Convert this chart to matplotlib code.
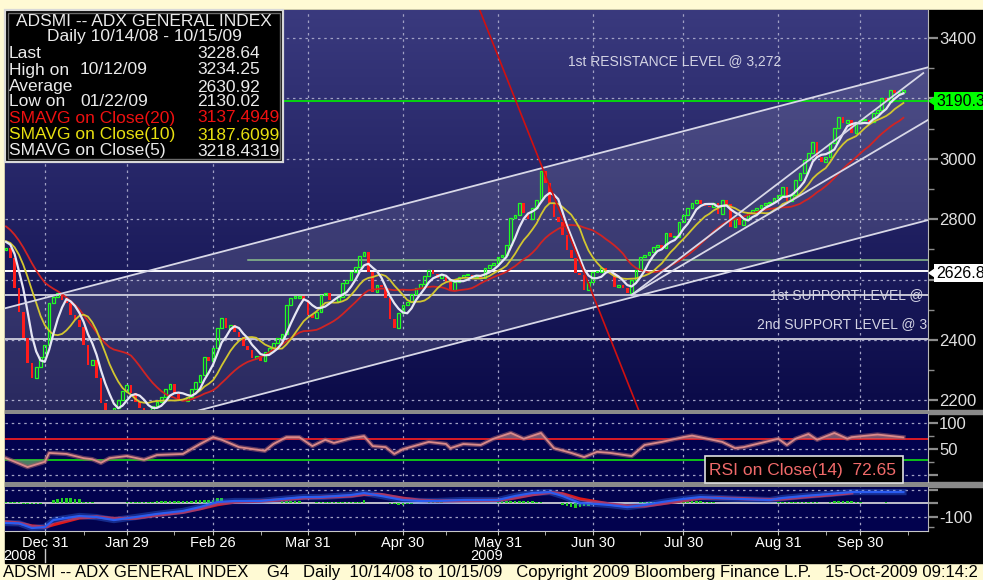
import numpy as np
import pandas as pd
import matplotlib
matplotlib.use('Agg')
import matplotlib.pyplot as plt
from matplotlib.patches import Rectangle, Polygon
from matplotlib.colors import LinearSegmentedColormap

plt.rcParams['font.family'] = ['Liberation Sans', 'DejaVu Sans']

W, H = 983, 580

# ---- data ----
# trading day index: 0 = first visible candle (mid Dec 2008), 208 = 10/15/09
pre_closes = [2905, 2890, 2880, 2860, 2835, 2810, 2790, 2775, 2760, 2745,
              2730, 2720, 2735, 2740, 2725, 2715, 2730, 2775, 2698]
closes = [2705, 2672, 2573, 2493, 2407, 2324, 2275, 2311, 2344, 2384,
          2523, 2543, 2556, 2533, 2523, 2483, 2467, 2443, 2384, 2318,
          2334, 2275, 2190, 2165, 2140, 2175, 2200, 2232, 2250, 2225,
          2195, 2175, 2165, 2160, 2180, 2195, 2210, 2238, 2255, 2220,
          2205, 2198, 2212, 2238, 2262, 2285, 2345, 2330, 2372, 2440,
          2472, 2440, 2450, 2425, 2410, 2380, 2368, 2340, 2348, 2330,
          2360, 2375, 2390, 2405, 2420, 2515, 2540, 2540, 2546, 2533,
          2483, 2473, 2493, 2549, 2556, 2533, 2530, 2543, 2589, 2599,
          2625, 2642, 2678, 2692, 2625, 2560, 2582, 2576, 2540, 2470,
          2440, 2490, 2516, 2526, 2553, 2573, 2586, 2612, 2632, 2619,
          2605, 2615, 2592, 2566, 2592, 2609, 2615, 2616, 2609, 2616,
          2606, 2639, 2649, 2655, 2675, 2682, 2715, 2804, 2814, 2854,
          2822, 2800, 2838, 2862, 2960, 2920, 2854, 2808, 2791, 2748,
          2698, 2672, 2622, 2616, 2566, 2592, 2625, 2625, 2639, 2632,
          2622, 2576, 2582, 2573, 2556, 2599, 2632, 2675, 2682, 2692,
          2708, 2715, 2705, 2754, 2740, 2741, 2791, 2814, 2837, 2854,
          2864, 2850, 2845, 2840, 2854, 2818, 2864, 2850, 2775, 2804,
          2781, 2798, 2821, 2831, 2837, 2847, 2854, 2857, 2870, 2880,
          2907, 2860, 2880, 2930, 2953, 2996, 3019, 3056, 3006, 2990,
          3006, 3052, 3102, 3138, 3119, 3129, 3086, 3122, 3129, 3129,
          3122, 3152, 3162, 3201, 3188, 3228, 3218, 3221, 3228.64]

tick_days = [9, 28, 48, 70, 92, 114, 136, 157, 179, 198]
tick_labels = ['Dec 31', 'Jan 29', 'Feb 26', 'Mar 31', 'Apr 30',
               'May 31', 'Jun 30', 'Jul 30', 'Aug 31', 'Sep 30']
minor_days = [18, 39, 59, 81, 102, 125, 147, 168, 190, 209]

rsi_days = [0, 5, 9, 10, 14, 18, 20, 22, 24, 28, 32, 35, 41, 45, 48, 50, 54, 60, 62, 65,
            68, 71, 74, 76, 80, 83, 85, 88, 90, 92, 98, 102, 103, 106, 110, 113, 117, 120, 124, 127,
            131, 134, 137, 140, 145, 148, 152, 157, 159, 162, 166, 169, 171, 176, 179, 181, 183, 186,
            188, 192, 195, 196, 202, 208]
rsi_vals = [33, 16, 26, 43, 41, 33, 31, 24, 33, 37, 30, 39, 41, 60, 73, 68, 54, 47, 60, 73,
            73, 56, 68, 62, 71, 75, 56, 54, 41, 50, 64, 60, 52, 60, 58, 70, 81, 70, 81, 52,
            43, 35, 45, 43, 37, 58, 64, 73, 76, 71, 64, 52, 54, 64, 70, 58, 70, 79,
            68, 81, 70, 73, 78, 72.65]

macd_days = [0, 3, 6, 9, 11, 17, 21, 25, 30, 35, 41, 45, 49, 53, 59, 64, 69, 73, 80, 83,
             87, 92, 96, 100, 106, 114, 118, 122, 126, 129, 133, 137, 140, 144, 148, 152, 157, 161,
             165, 170, 177, 180, 185, 191, 196, 198, 208]
macd_blue = [-148, -150, -185, -178, -126, -96, -104, -126, -104, -81, -59, -30, 7, 15, 15, 30, 44, 44, 59, 74,
             52, 22, 15, 15, 22, 22, 52, 74, 81, 52, 0, -7, -15, -30, -15, 7, 30, 44,
             37, 30, 22, 37, 52, 67, 81, 81, 81]
macd_red = [-140, -148, -170, -178, -160, -110, -102, -115, -112, -90, -68, -42, -12, 8, 14, 24, 38, 42, 52, 64,
            62, 35, 20, 15, 18, 20, 38, 62, 78, 68, 30, 8, -8, -22, -22, -5, 18, 36,
            38, 33, 25, 30, 45, 60, 75]

hist_days = [0, 1, 2, 3, 4, 5, 6, 7, 8, 11, 12, 13, 14, 15, 16, 17, 18, 19, 20,
             28, 29, 30, 31, 32, 33, 34, 35, 36, 37, 38, 39, 40, 41, 42, 43, 44, 45, 46, 47, 48,
             49, 50, 53, 54, 55, 56, 64, 65, 66, 67, 68, 72, 73, 74, 75, 76, 77, 78, 79, 80, 81, 82, 83,
             89, 90, 91, 92, 93, 94, 98, 99, 100, 101,
             114, 115, 116, 117, 118, 119, 120, 121, 122, 123, 124, 129, 130, 131, 132, 133, 134, 135, 136,
             147, 148, 149, 150, 151, 152, 153, 154, 155, 156, 157, 158, 159, 160, 161, 162, 163, 164,
             179, 180, 181, 182, 183, 184, 185, 186, 187, 188, 191, 192, 193, 194, 195, 196, 197, 198, 204]
hist_vals = [6, 6, 5, 4, -8, -10, -10, -9, -8, 25, 32, 35, 35, 35, 33, 30, 10, 8, 6,
             6, 8, 8, 8, 8, 8, 8, 12, 14, 15, 15, 15, 15, 15, 15, 18, 20, 22, 22, 24, 25,
             35, 37, 10, 10, 9, 8, 12, 15, 15, 14, 12, 6, 7, 8, 8, 8, 8, 8, 8, 8, 9, 10, 22,
             -8, -10, -12, -12, -10, -6, 6, 8, 8, 6,
             10, 12, 14, 15, 15, 15, 15, 14, 12, 10, 8, -15, -25, -32, -35, -30, -25, -20, -12,
             6, 8, 10, 10, 10, 10, 10, 12, 12, 14, 15, 15, 15, 14, 12, 10, 8, 6,
             8, 10, 10, 10, 10, 10, 10, 10, 10, 8, 10, 12, 12, 12, 12, 12, 10, 8, 6]

# analyst drawings (day, price)
channel_top = [(-1, 2502), (215, 3308)]
channel_bottom = [(-1, 1996), (215, 2802)]
trend_steep = [(145, 2549), (212.6, 3284)]
trend_mid = [(145, 2549), (214.9, 3139)]
red_down = [(109.8, 3493), (146.6, 2169)]
last_price_level = 3190.3
prev_level = 2626.8
support1 = 2549
support2 = 2403
green_level = (56, 2665)

# ---- indicators ----
allc = pd.Series(pre_closes + closes, dtype=float)
n0 = len(pre_closes)
sma5 = allc.rolling(5).mean().to_numpy()[n0:]
sma10 = allc.rolling(10).mean().to_numpy()[n0:]
sma20 = allc.rolling(20).mean().to_numpy()[n0:]

days = np.arange(len(closes))
c = np.array(closes, dtype=float)
o = np.array([pre_closes[-1]] + closes[:-1], dtype=float)

# ---- figure ----
fig = plt.figure(figsize=(W / 100, H / 100), dpi=100)
fig.patch.set_facecolor('#FFFAD4')


def box(x0, y0, x1, y1):
    return [x0 / W, 1 - y1 / H, (x1 - x0) / W, (y1 - y0) / H]


bg = fig.add_axes([0, 0, 1, 1], zorder=-5)
bg.set_xlim(0, W)
bg.set_ylim(H, 0)
bg.axis('off')
bg.add_patch(Rectangle((5, 10), W - 5, 553, color='black'))
bg.add_patch(Rectangle((5, 410), W - 5, 4, color='#8A8A8A'))
bg.add_patch(Rectangle((5, 482), W - 5, 5, color='#8A8A8A'))

ax = fig.add_axes(box(5, 10, 928, 410))
ax_rsi = fig.add_axes(box(5, 414, 928, 482))
ax_m = fig.add_axes(box(5, 487, 928, 531))

XL = (-0.23, 213.7)
grid_kw = dict(color='#A0A0C4', lw=0.9, ls=(0, (2, 3)), zorder=1)

for a in (ax, ax_rsi, ax_m):
    a.set_xlim(*XL)
    for s in ('left', 'top', 'bottom'):
        a.spines[s].set_visible(False)
    a.spines['right'].set_color('#B8B8B8')
    a.yaxis.tick_right()
    a.set_xticks(tick_days)
    a.set_xticks(minor_days, minor=True)
    for d in tick_days:
        a.axvline(d, **grid_kw)

# main panel
grad = np.linspace(1, 0, 256).reshape(-1, 1)
cmap = LinearSegmentedColormap.from_list('bb', ['#0A0A48', '#3A3A7E'])
ax.imshow(grad, cmap=cmap, aspect='auto', extent=[0, 1, 0, 1],
          transform=ax.transAxes, zorder=0)
for p in range(2200, 3500, 200):
    ax.axhline(p, **grid_kw)

(cx0, cy0), (cx1, cy1) = channel_top
(bx0, by0), (bx1, by1) = channel_bottom
ax.add_patch(Polygon([(cx0, cy0), (cx1, cy1), (bx1, by1), (bx0, by0)],
                     facecolor='white', alpha=0.13, edgecolor='none', zorder=1))
for ln in (channel_top, channel_bottom, trend_steep, trend_mid):
    ax.plot([ln[0][0], ln[1][0]], [ln[0][1], ln[1][1]], color='#D8D8E8', lw=1.3, zorder=5)
ax.plot([red_down[0][0], red_down[1][0]], [red_down[0][1], red_down[1][1]],
        color='#D01010', lw=1.2, zorder=5)

ax.axhline(last_price_level, color='#00F000', lw=1.2, zorder=2)
ax.axhline(prev_level, color='white', lw=1.4, zorder=2)
ax.axhline(support1, color='#C4C4D4', lw=1.4, zorder=2)
ax.axhline(support2, color='#C4C4D4', lw=1.4, zorder=2)
ax.plot([green_level[0], XL[1]], [green_level[1], green_level[1]], color='#8CC08C', lw=1.1, zorder=2)

up = c >= o
lo = np.minimum(o, c)
hgt = np.maximum(np.abs(c - o), 4)
ax.bar(days[up], hgt[up], bottom=lo[up], width=0.62, facecolor='none',
       edgecolor='#20FF20', linewidth=0.9, zorder=3)
ax.bar(days[~up], hgt[~up], bottom=lo[~up], width=0.62, color='#FF1C1C',
       linewidth=0, zorder=3)

ax.plot(days, sma20, color='#D02424', lw=1.3, zorder=4)
ax.plot(days, sma10, color='#D2C630', lw=1.3, zorder=4)
ax.plot(days, sma5, color='#E6E6F4', lw=1.6, zorder=4)

txt_kw = dict(color='#D4D4E4', fontsize=10, clip_on=True, zorder=6)
ax.text(155, 3320, '1st RESISTANCE LEVEL @ 3,272', ha='center', va='center', **txt_kw)
ax.text(177, support1, '1st SUPPORT LEVEL @', ha='left', va='center', **txt_kw)
ax.text(174, 2453, '2nd SUPPORT LEVEL @ 3', ha='left', va='center', **txt_kw)

ax.set_ylim(2168, 3493)
ax.set_xlim(*XL)
ax.set_yticks(range(2200, 3500, 200))
# 3200 and 2600 sit under the price flags
ax.set_yticklabels(['2200', '2400', '', '2800', '3000', '', '3400'])
ax.set_yticks(range(2300, 3400, 200), minor=True)
ax.tick_params(axis='y', which='major', length=7, width=1.6, color='#8C8C8C',
               labelcolor='#E0E0E0', labelsize=12, pad=1)
ax.tick_params(axis='y', which='minor', length=4, width=1, color='#8C8C8C')
ax.tick_params(axis='x', which='both', length=0, labelbottom=False)

# RSI panel
ax_rsi.set_facecolor('#02024E')
for v in (0, 50, 100):
    ax_rsi.axhline(v, **grid_kw)
ax_rsi.axhline(70, color='#FF2020', lw=1.2, zorder=2)
ax_rsi.axhline(30, color='#10E010', lw=1.2, zorder=2)
rd = np.array(rsi_days)
rv = np.array(rsi_vals, dtype=float)
ax_rsi.fill_between(rd, rv, 70, where=rv > 70, interpolate=True, color='#C08A8A', alpha=0.6, lw=0, zorder=2)
ax_rsi.fill_between(rd, rv, 30, where=rv < 30, interpolate=True, color='#5E9A6A', alpha=0.8, lw=0, zorder=2)
ax_rsi.plot(rd, rv, color='#9A5A6A', lw=3.2, alpha=0.6, zorder=3)
ax_rsi.plot(rd, rv, color='#DA8A8A', lw=1.3, zorder=4)
ax_rsi.set_ylim(-12.4, 117.1)
ax_rsi.set_xlim(*XL)
ax_rsi.set_yticks([0, 50, 100])
ax_rsi.set_yticklabels(['', '50', '100'])
ax_rsi.set_yticks([25, 75], minor=True)
ax_rsi.tick_params(axis='y', which='major', length=7, width=1.6, color='#8C8C8C',
                   labelcolor='#E0E0E0', labelsize=12, pad=1)
ax_rsi.tick_params(axis='y', which='minor', length=4, width=1, color='#8C8C8C')
ax_rsi.tick_params(axis='x', which='both', length=0, labelbottom=False)

# lower oscillator panel
ax_m.set_facecolor('#02024E')
for v in (100, -100):
    ax_m.axhline(v, **grid_kw)
ax_m.axhline(0, color='#E0E0E0', lw=1.2, zorder=2)
ax_m.bar(hist_days, hist_vals, width=0.6, color='#22D022', zorder=3)
ax_m.plot(macd_days[:len(macd_red)], macd_red, color='#E01818', lw=2.4, zorder=4)
ax_m.plot(macd_days, macd_blue, color='#3A78FF', lw=4.5, alpha=0.35, zorder=5)
ax_m.plot(macd_days, macd_blue, color='#2A5CF0', lw=1.6, zorder=5)
ax_m.set_ylim(-207, 118.5)
ax_m.set_xlim(*XL)
ax_m.set_yticks([100, 0, -100])
ax_m.set_yticklabels(['', '', '-100'])
ax_m.set_yticks([-180], minor=True)
ax_m.tick_params(axis='y', which='major', length=7, width=1.6, color='#8C8C8C',
                 labelcolor='#E0E0E0', labelsize=12, pad=1)
ax_m.tick_params(axis='y', which='minor', length=4, width=1, color='#8C8C8C')
ax_m.spines['bottom'].set_visible(True)
ax_m.spines['bottom'].set_color('#C8C8C8')
ax_m.set_xticklabels(tick_labels)
ax_m.tick_params(axis='x', which='both', direction='out', color='#C8C8C8', length=3,
                 labelcolor='white', labelsize=10.5, pad=0.5)

# overlay: legend box, value flags, footer
fg = fig.add_axes([0, 0, 1, 1], zorder=10)
fg.set_xlim(0, W)
fg.set_ylim(H, 0)
fg.axis('off')

fg.add_patch(Rectangle((5, 10), 278, 152, facecolor='black', edgecolor='#D8D8D8', lw=1.6))
fg.add_patch(Rectangle((8, 13), 272, 146, facecolor='none', edgecolor='#6A6A6A', lw=1))
fg.text(144, 21, 'ADSMI -- ADX GENERAL INDEX', ha='center', va='center', color='#EAEAEA', fontsize=12.5)
fg.text(144, 37, 'Daily 10/14/08 - 10/15/09', ha='center', va='center', color='#EAEAEA', fontsize=12.5)
rows = [('Last', '', '3228.64', '#EAEAEA'),
        ('High on', '10/12/09', '3234.25', '#EAEAEA'),
        ('Average', '', '2630.92', '#EAEAEA'),
        ('Low on', '01/22/09', '2130.02', '#EAEAEA'),
        ('SMAVG on Close(20)', '', '3137.4949', '#EE1010'),
        ('SMAVG on Close(10)', '', '3187.6099', '#E8E010'),
        ('SMAVG on Close(5)', '', '3218.4319', '#EAEAEA')]
row_y = [53, 70, 87, 102, 118, 135, 151]
for (lab, dt, val, col), yy in zip(rows, row_y):
    fg.text(9, yy, lab, ha='left', va='center', color=col, fontsize=12.5)
    if dt:
        fg.text(80, yy, dt, ha='left', va='center', color=col, fontsize=12.5)
    fg.text(197, yy, val, ha='left', va='center', color=col, fontsize=12.5)


def flag(yy, label, fc):
    fg.add_patch(Polygon([(929, yy), (935, yy - 4), (935, yy + 4)], color=fc))
    fg.text(936, yy, label, ha='left', va='center', color='black', fontsize=11.5,
            bbox=dict(boxstyle='square,pad=0.12', fc=fc, ec='none'))


flag(101, '3190.3', '#00FF00')
flag(273, '2626.8', '#FFFFFF')

fg.add_patch(Rectangle((705, 456), 198, 27, facecolor='black', edgecolor='#E0E0E0', lw=1.2))
fg.text(709, 470, 'RSI on Close(14)  72.65', ha='left', va='center', color='#F06A6A', fontsize=12.5)

fg.plot([45, 45], [549, 562], color='#C8C8C8', lw=1)
fg.text(3, 556, '2008', ha='left', va='center', color='white', fontsize=10.5)
fg.text(470, 556, '2009', ha='left', va='center', color='white', fontsize=10.5)
fg.text(3, 573, 'ADSMI -- ADX GENERAL INDEX    G4   Daily  10/14/08 to 10/15/09   '
        'Copyright 2009 Bloomberg Finance L.P.   15-Oct-2009 09:14:2',
        ha='left', va='center', color='black', fontsize=12)

fig.savefig('out.png', dpi=100, facecolor=fig.get_facecolor())
